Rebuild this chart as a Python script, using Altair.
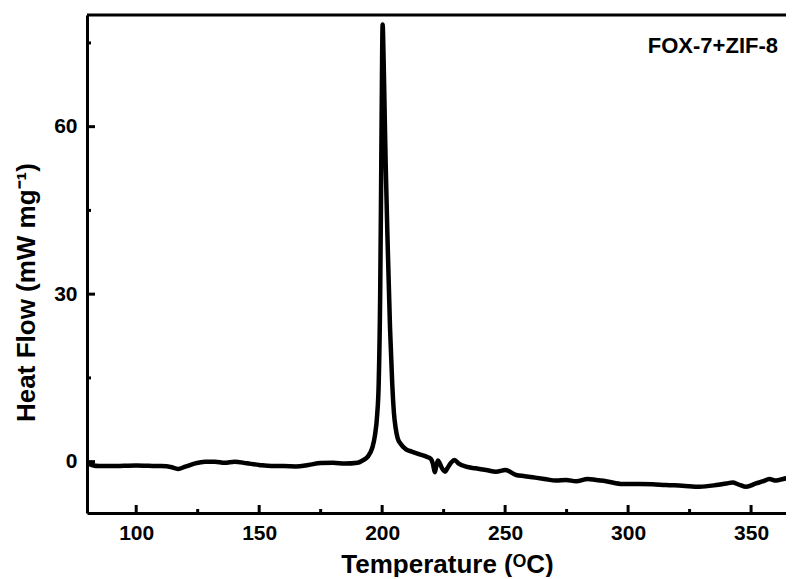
import altair as alt
import pandas as pd

temps = [80, 82, 85, 90, 95, 100, 105, 110, 114, 117, 120, 124, 128, 132, 136, 140, 145, 150, 155, 160,
         165, 170, 175, 180, 185, 190, 192, 194, 196, 197, 198, 198.6, 199.2, 199.5, 199.8, 200.2, 200.6,
         201.0, 201.4, 202.3, 203.2, 204.1, 204.8, 205.5, 206.3, 207.5, 209.7, 212, 215.2, 218, 219.8,
         220.7, 221.4, 222, 222.7, 223.4, 224.5, 225.6, 226.5, 228, 229.4, 231, 234.1, 238, 242.3, 246.3,
         250.1, 254.5, 258, 261.2, 266, 270.7, 274.8, 278.9, 283.6, 287, 291, 297.8, 304.6, 310, 315.4,
         322, 329, 335.8, 340, 342.5, 345, 348, 352, 355, 357.4, 360.2, 363, 367]
heat_flow = [-0.1, -0.6, -0.8, -0.8, -0.75, -0.7, -0.75, -0.8, -0.95, -1.3, -0.9, -0.3, 0.0, 0.0, -0.2,
             0.0, -0.3, -0.6, -0.8, -0.8, -0.85, -0.6, -0.25, -0.2, -0.35, -0.2, 0.2, 0.8, 2.5, 4.5, 8.5,
             14, 30, 45, 62, 78.3, 72, 63, 54, 38, 24, 14, 8.7, 6, 4.2, 3.2, 2.2, 1.8, 1.3, 0.9, 0.5,
             -0.5, -1.9, -0.8, 0.2, -0.3, -1.3, -1.8, -1.2, -0.2, 0.3, -0.3, -0.9, -1.2, -1.5, -1.8,
             -1.5, -2.4, -2.6, -2.8, -3.1, -3.4, -3.3, -3.5, -3.1, -3.3, -3.5, -4.0, -4.0, -4.05, -4.2,
             -4.3, -4.5, -4.2, -3.9, -3.75, -4.1, -4.5, -3.9, -3.5, -3.1, -3.4, -3.1, -2.8]

x_major = [100, 150, 200, 250, 300, 350]
x_minor = [125, 175, 225, 275, 325]
y_major = [0, 30, 60]
y_minor = [15, 45, 75]
sample_label = "FOX-7+ZIF-8"

W, H = 699, 498
FONT = "Liberation Sans"

xs = alt.Scale(domain=[80, 364.2], nice=False, zero=False)
ys = alt.Scale(domain=[-9.2, 80], nice=False, zero=False)

df = pd.DataFrame({"T": temps, "HF": heat_flow})

line = alt.Chart(df).mark_line(color="black", strokeWidth=4.5, interpolate="monotone", clip=True).encode(
    x=alt.X("T:Q", scale=xs,
            axis=alt.Axis(title="Temperature (ᴼC)", values=x_major, ticks=False, domain=True,
                          domainColor="black", domainWidth=3, grid=False,
                          labelFont=FONT, labelFontSize=21, labelFontWeight="bold", labelColor="black",
                          labelPadding=9, titleFont=FONT, titleFontSize=26, titleFontWeight="bold",
                          titleColor="black", titleBaseline="alphabetic", titleY=59, titleX=360)),
    y=alt.Y("HF:Q", scale=ys,
            axis=alt.Axis(title="Heat Flow (mW mg⁻¹)", values=y_major, ticks=False, domain=True,
                          domainColor="black", domainWidth=3, grid=False,
                          labelFont=FONT, labelFontSize=21, labelFontWeight="bold", labelColor="black",
                          labelPadding=10, titleFont=FONT, titleFontSize=26, titleFontWeight="bold",
                          titleColor="black", titleX=-48, titleY=277)),
)

top_frame = alt.Chart(pd.DataFrame({"T": [80]})).mark_rule(color="black", strokeWidth=3).encode(
    x=alt.value(0), x2=alt.value(W), y=alt.value(0))

xmaj = alt.Chart(pd.DataFrame({"T": x_major})).mark_rule(color="black", strokeWidth=3).encode(
    x=alt.X("T:Q", scale=xs), y=alt.value(H), y2=alt.value(H - 8))
xmin = alt.Chart(pd.DataFrame({"T": x_minor})).mark_rule(color="black", strokeWidth=3).encode(
    x=alt.X("T:Q", scale=xs), y=alt.value(H), y2=alt.value(H - 4))
ymaj = alt.Chart(pd.DataFrame({"V": y_major})).mark_rule(color="black", strokeWidth=3).encode(
    y=alt.Y("V:Q", scale=ys), x=alt.value(0), x2=alt.value(8))
ymin = alt.Chart(pd.DataFrame({"V": y_minor})).mark_rule(color="black", strokeWidth=3).encode(
    y=alt.Y("V:Q", scale=ys), x=alt.value(0), x2=alt.value(4))

label = alt.Chart(pd.DataFrame({"t": [sample_label]})).mark_text(
    font=FONT, fontSize=22, fontWeight="bold", color="black", align="right", baseline="alphabetic"
).encode(text="t:N", x=alt.value(691), y=alt.value(38))

chart = alt.layer(line, top_frame, xmaj, xmin, ymaj, ymin, label).properties(
    width=W, height=H,
    background="white",
    autosize=alt.AutoSizeParams(type="none"),
    padding={"left": 79, "top": 7, "right": 0, "bottom": 64},
).configure_view(stroke=None)

chart.save("out.html", embed_options={"renderer": "svg", "actions": False})
